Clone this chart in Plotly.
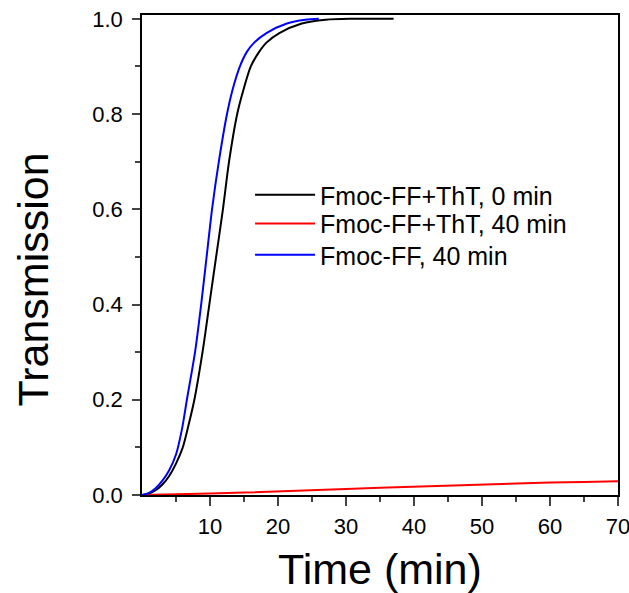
import plotly.graph_objects as go

# Fmoc-FF+ThT, 0 min (black)
t_black = [0, 1.0, 2.0, 3.0, 4.0, 5.0, 6.0, 6.9, 7.7, 8.9, 9.9, 10.9, 11.9, 12.8, 14.0, 14.9, 16.0, 17.2, 18.3, 20.2, 23.5, 27.0, 31.0, 37.0]
y_black = [0, 0.003, 0.010, 0.022, 0.040, 0.066, 0.10, 0.15, 0.2, 0.3, 0.4, 0.5, 0.6, 0.7, 0.8, 0.85, 0.9, 0.93, 0.95, 0.97, 0.99, 0.998, 1.0, 1.0]

# Fmoc-FF+ThT, 40 min (red)
t_red = [0, 4.5, 10, 15, 20, 25, 30, 35, 40, 45, 50, 55, 60, 65, 70]
y_red = [0, 0.001, 0.003, 0.005, 0.007, 0.010, 0.0125, 0.015, 0.0175, 0.020, 0.0225, 0.024, 0.0265, 0.0275, 0.029]

# Fmoc-FF, 40 min (blue)
t_blue = [0, 1.0, 2.0, 3.0, 4.0, 5.0, 5.9, 6.6, 7.8, 8.7, 9.5, 10.3, 11.3, 12.5, 13.3, 14.4, 15.4, 16.5, 18.3, 21.3, 24.0, 26.0]
y_blue = [0, 0.004, 0.014, 0.030, 0.052, 0.085, 0.14, 0.2, 0.3, 0.4, 0.5, 0.6, 0.7, 0.8, 0.85, 0.9, 0.93, 0.95, 0.97, 0.99, 0.998, 1.0]

x_ticks = [10, 20, 30, 40, 50, 60, 70]
x_minor = [5, 15, 25, 35, 45, 55, 65]
y_ticks = [0.0, 0.2, 0.4, 0.6, 0.8, 1.0]
y_minor = [0.1, 0.3, 0.5, 0.7, 0.9]

names = ["Fmoc-FF+ThT, 0 min", "Fmoc-FF+ThT, 40 min", "Fmoc-FF, 40 min"]
colors = ["#000000", "#FF0000", "#0000FF"]

FONT = "Liberation Sans, Arial, sans-serif"

fig = go.Figure()
fig.add_trace(go.Scatter(x=t_black, y=y_black, mode="lines", name=names[0], legend="legend",
                         line=dict(color=colors[0], width=2, shape="spline", smoothing=0.8)))
fig.add_trace(go.Scatter(x=t_red, y=y_red, mode="lines", name=names[1], legend="legend2",
                         line=dict(color=colors[1], width=2)))
fig.add_trace(go.Scatter(x=t_blue, y=y_blue, mode="lines", name=names[2], legend="legend3",
                         line=dict(color=colors[2], width=2, shape="spline", smoothing=0.8)))

leg_common = dict(x=0.227, xanchor="left", yanchor="middle", bgcolor="rgba(0,0,0,0)",
                  font=dict(size=25, family=FONT), itemwidth=60)

fig.update_layout(
    width=629, height=593,
    margin=dict(l=142, r=11, t=15, b=98, autoexpand=False),
    plot_bgcolor="white", paper_bgcolor="white",
    font=dict(family=FONT, color="black"),
    showlegend=True,
    legend=dict(y=0.625, **leg_common),
    legend2=dict(y=0.565, **leg_common),
    legend3=dict(y=0.500, **leg_common),
    xaxis=dict(range=[0, 70], tickvals=x_ticks, ticks="outside", ticklen=9, tickwidth=1.5,
               showline=True, linecolor="black", linewidth=1.5, mirror=True, automargin=False,
               ticklabeloverflow="allow", ticklabelstandoff=2,
               showgrid=False, zeroline=False, tickfont=dict(size=22),
               minor=dict(tickvals=x_minor, ticks="outside", ticklen=5, tickwidth=1.5, showgrid=False)),
    yaxis=dict(range=[0, 1.008], tickvals=y_ticks, tickformat=".1f", ticks="outside", ticklen=8, tickwidth=1.5,
               showline=True, linecolor="black", linewidth=1.5, mirror=True, automargin=False,
               ticklabeloverflow="allow", ticklabelstandoff=5,
               showgrid=False, zeroline=False, tickfont=dict(size=22),
               minor=dict(tickvals=y_minor, ticks="outside", ticklen=5, tickwidth=1.5, showgrid=False)),
    annotations=[
        dict(text="Transmission", xref="paper", yref="paper", x=-0.228, y=0.45,
             xanchor="center", yanchor="middle", textangle=-90, showarrow=False,
             font=dict(size=43, family=FONT)),
        dict(text="Time (min)", xref="paper", yref="paper", x=0.5, y=-0.154,
             xanchor="center", yanchor="middle", showarrow=False,
             font=dict(size=43, family=FONT)),
    ],
)

fig.write_html("out.html", config={"displayModeBar": False},
               post_script="document.body.style.margin='0';document.body.style.overflow='hidden';")
